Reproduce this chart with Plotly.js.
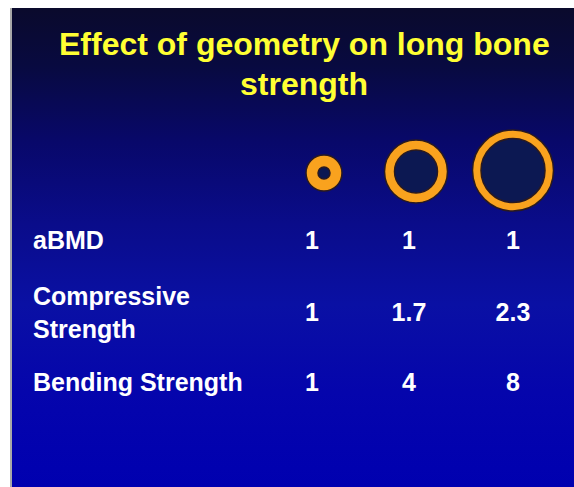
<!DOCTYPE html>
<html>
<head>
<meta charset="utf-8">
<script src="https://cdn.plot.ly/plotly-3.0.1.min.js"></script>
<style>
html,body{margin:0;padding:0;background:#ffffff;width:574px;height:487px;overflow:hidden;}
#bg{position:absolute;left:10px;top:8px;width:564px;height:479px;
background:linear-gradient(to bottom,#0a0a2c 0%,#080a40 12%,#08086a 28%,#0a0c8a 45%,#0a10a4 62%,#0505ac 80%,#0000b0 100%);
border-left:2px solid #a8a8a8;box-sizing:border-box;}
#chart{position:absolute;left:0;top:0;width:574px;height:487px;}
</style>
</head>
<body>
<div id="bg"></div>
<div id="chart"></div>
<script>
// Data
const titleLines = ["Effect of geometry on long bone", "strength"];
const rowLabels = ["aBMD", "Compressive<br>Strength", "Bending Strength"];
const columns = ["thin solid", "medium hollow", "wide hollow"];
const aBMD = ["1", "1", "1"];
const compressive = ["1", "1.7", "2.3"];
const bending = ["1", "4", "8"];
const outerRadius = [18, 31.5, 40.5];
const innerRadius = [6, 21.5, 32];

// layout positions (pixel-like coordinates)
const colX = [312, 409, 513];
const ringX = [324, 416, 513];
const ringY = [173, 171.5, 170.5];
const rowY = [243, 315, 385];
const labelX = 33;
const FONT = 'Liberation Sans, Arial, sans-serif';

const traces = [];
traces.push({
  type: 'scatter', mode: 'text', x: rowLabels.map(() => labelX), y: rowY,
  text: rowLabels, textposition: 'middle right',
  textfont: {family: FONT, size: 25, color: '#ffffff', weight: 'bold'},
  hoverinfo: 'skip', showlegend: false
});
[aBMD, compressive, bending].forEach((vals, r) => {
  traces.push({
    type: 'scatter', mode: 'text', x: colX, y: colX.map(() => rowY[r]),
    text: vals, textposition: 'middle center',
    textfont: {family: FONT, size: 25, color: '#ffffff', weight: 'bold'},
    hoverinfo: 'skip', showlegend: false
  });
});

const shapes = [];
columns.forEach((c, i) => {
  const ro = outerRadius[i], ri = innerRadius[i];
  shapes.push({type: 'circle', xref: 'x', yref: 'y', x0: ringX[i] - ro, x1: ringX[i] + ro,
    y0: ringY[i] - ro, y1: ringY[i] + ro, fillcolor: '#f9a21e', line: {color: '#2a1a20', width: 1.5}});
  shapes.push({type: 'circle', xref: 'x', yref: 'y', x0: ringX[i] - ri, x1: ringX[i] + ri,
    y0: ringY[i] - ri, y1: ringY[i] + ri, fillcolor: '#0c1852', line: {color: '#2a1a20', width: 1.5}});
});

const layout = {
  width: 574, height: 487,
  margin: {l: 0, r: 0, t: 0, b: 0},
  paper_bgcolor: 'rgba(0,0,0,0)', plot_bgcolor: 'rgba(0,0,0,0)',
  xaxis: {range: [0, 574], visible: false, fixedrange: true},
  yaxis: {range: [487, 0], visible: false, fixedrange: true},
  shapes: shapes,
  annotations: [
    {x: 304, y: 44, xref: 'x', yref: 'y', text: titleLines[0], showarrow: false,
     font: {family: FONT, size: 32, color: '#ffff33', weight: 'bold'}},
    {x: 304, y: 84, xref: 'x', yref: 'y', text: titleLines[1], showarrow: false,
     font: {family: FONT, size: 32, color: '#ffff33', weight: 'bold'}}
  ],
  showlegend: false
};

Plotly.newPlot('chart', traces, layout, {staticPlot: true, displayModeBar: false});
</script>
</body>
</html>
